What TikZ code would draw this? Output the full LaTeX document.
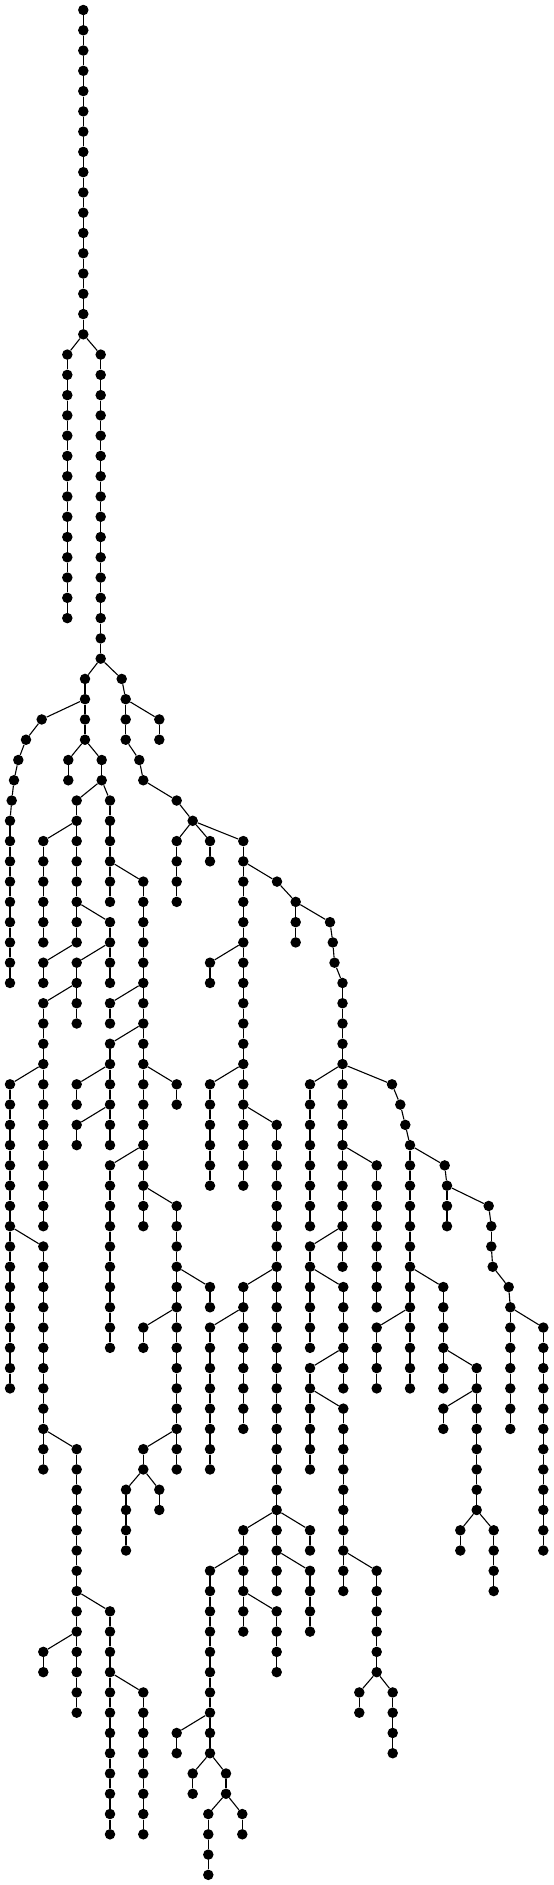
\documentclass[tikz,border=0pt]{standalone}
\tikzset{tdot/.style={circle,fill=black,draw=none,inner sep=0pt,minimum size=10.5pt},
 tline/.style={line width=1.1pt,black}}
\newcommand\nd[3]{\node[tdot] (#1) at (#2,{10+20.27*(#3)}) {};}
\newcommand\ed[2]{\draw[tline] (#1) -- (#2);}
\newcommand\vch[4]{%
 \foreach \l in {#3,...,#4}{\node[tdot] (#1-\l) at (#2,{10+20.27*\l}) {};}%
 \foreach \l in {#3,...,#4}{\ifnum\l>#3\relax\pgfmathtruncatemacro\pl{\l-1}\draw[tline] (#1-\pl) -- (#1-\l);\fi}}
\begin{document}
\begin{tikzpicture}[x=1pt,y=-1pt]
\useasboundingbox (0,0) rectangle (554,1885);
\vch{A}{83.3}{0}{16}
\vch{B}{67.3}{17}{30} \ed{A-16}{B-17}
\vch{C}{100.7}{17}{32} \ed{A-16}{C-17}
\vch{D}{85}{33}{36} \ed{C-32}{D-33}
\nd{e33}{121.7}{33} \ed{C-32}{e33}
\vch{E}{125.7}{34}{36} \ed{e33}{E-34}
\vch{F}{159.3}{35}{36} \ed{E-34}{F-35}
\nd{g37}{139.3}{37} \nd{g38}{143.3}{38} \nd{g39}{176.7}{39} \nd{V}{192.7}{40}
\ed{E-36}{g37} \ed{g37}{g38} \ed{g38}{g39} \ed{g39}{V}
\nd{h35}{41.7}{35} \nd{h36}{26}{36} \nd{h37}{18.3}{37} \nd{h38}{14}{38} \nd{h39}{11.7}{39}
\ed{D-34}{h35} \ed{h35}{h36} \ed{h36}{h37} \ed{h37}{h38} \ed{h38}{h39}
\vch{K0a}{10}{40}{48} \ed{h39}{K0a-40}
\vch{I}{68.3}{37}{38} \ed{D-36}{I-37}
\vch{J}{101.7}{37}{38} \ed{D-36}{J-37}
\vch{K2a}{76.7}{39}{46} \ed{J-38}{K2a-39}
\vch{K3a}{110}{39}{44} \ed{J-38}{K3a-39}
\vch{K1a}{43.3}{41}{46} \ed{K2a-40}{K1a-41}
\vch{K4a}{143.3}{43}{60} \ed{K3a-42}{K4a-43}
\vch{K3b}{110}{45}{48} \ed{K2a-44}{K3b-45}
\vch{K1b}{43.3}{47}{48} \ed{K2a-46}{K1b-47}
\vch{K2b}{76.7}{47}{50} \ed{K3b-46}{K2b-47}
\vch{K1c}{43.3}{49}{60} \ed{K2b-48}{K1c-49}
\vch{K3c}{110}{49}{50} \ed{K4a-48}{K3c-49}
\vch{K3d}{110}{51}{56} \ed{K4a-50}{K3d-51}
\vch{K5a}{176.7}{53}{54} \ed{K4a-52}{K5a-53}
\vch{K3e}{110}{57}{66} \ed{K4a-56}{K3e-57}
\vch{K5b}{176.7}{59}{72} \ed{K4a-58}{K5b-59}
\vch{K0b}{10}{53}{68} \ed{K1c-52}{K0b-53}
\vch{K2c}{76.7}{53}{54} \ed{K3d-52}{K2c-53}
\vch{K2d}{76.7}{55}{56} \ed{K3d-54}{K2d-55}
\vch{K1d}{43.3}{61}{72} \ed{K0b-60}{K1d-61}
\vch{K2e}{76.7}{71}{84} \ed{K1d-70}{K2e-71}
\vch{K3f}{110}{79}{90} \ed{K2e-78}{K3f-79}
\vch{K1e}{43.3}{81}{82} \ed{K2e-80}{K1e-81}
\vch{K4b}{143.3}{83}{90} \ed{K3f-82}{K4b-83}
\vch{K6c}{210}{63}{64} \ed{K5b-62}{K6c-63}
\vch{K4c}{143.3}{65}{66} \ed{K5b-64}{K4c-65}
\vch{K4d}{143.3}{71}{72} \ed{K5b-70}{K4d-71}
\vch{M}{126}{73}{76} \ed{K4d-72}{M-73}
\vch{N}{159.3}{73}{74} \ed{K4d-72}{N-73}
\vch{K5v}{176.7}{41}{44} \ed{V}{K5v-41}
\vch{K6v}{210}{41}{42} \ed{V}{K6v-41}
\vch{K7a}{243.3}{41}{58} \ed{V}{K7a-41}
\nd{p43}{277}{43} \ed{K7a-42}{p43}
\vch{W}{295.7}{44}{46} \ed{p43}{W-44}
\nd{q45}{330}{45} \nd{q46}{332.8}{46} \nd{q47}{334.5}{47}
\ed{W-44}{q45} \ed{q45}{q46} \ed{q46}{q47}
\vch{K10a}{342.5}{48}{62} \ed{q47}{K10a-48}
\vch{K6a}{210}{47}{48} \ed{K7a-46}{K6a-47}
\vch{K6b}{210}{53}{58} \ed{K7a-52}{K6b-53}
\vch{K8a}{276.7}{55}{78} \ed{K7a-54}{K8a-55}
\vch{K7b}{243.3}{63}{70} \ed{K8a-62}{K7b-63}
\vch{K6d}{210}{65}{72} \ed{K7b-64}{K6d-65}
\vch{K7c}{243.3}{75}{80} \ed{K8a-74}{K7c-75}
\vch{K6e}{210}{77}{86} \ed{K7c-76}{K6e-77}
\vch{K8b}{276.7}{79}{82} \ed{K7c-78}{K8b-79}
\vch{K5c}{176.7}{85}{86} \ed{K6e-84}{K5c-85}
\vch{R}{192.7}{87}{88} \ed{K6e-86}{R-87}
\vch{S}{226}{87}{88} \ed{K6e-86}{S-87}
\vch{T}{208.3}{89}{92} \ed{S-88}{T-89}
\vch{U}{242.3}{89}{90} \ed{S-88}{U-89}
\vch{K9c}{310}{75}{76} \ed{K8a-74}{K9c-75}
\vch{K9d}{310}{77}{80} \ed{K8a-76}{K9d-77}
\vch{K9a}{310}{53}{60} \ed{K10a-52}{K9a-53}
\nd{v53}{392}{53} \nd{v54}{400.3}{54} \nd{v55}{405.3}{55}
\ed{K10a-52}{v53} \ed{v53}{v54} \ed{v54}{v55}
\vch{K12a}{410}{56}{68} \ed{v55}{K12a-56}
\vch{K11a}{376.7}{57}{64} \ed{K10a-56}{K11a-57}
\vch{K9b}{310}{61}{66} \ed{K10a-60}{K9b-61}
\vch{K10b}{343.3}{63}{68} \ed{K9b-62}{K10b-63}
\vch{K9e}{310}{67}{72} \ed{K10b-66}{K9e-67}
\vch{K10c}{343.3}{69}{78} \ed{K9e-68}{K10c-69}
\vch{K11c}{376.7}{77}{82} \ed{K10c-76}{K11c-77}
\vch{Wa}{359.3}{83}{84} \ed{K11c-82}{Wa-83}
\vch{Xa}{392.7}{83}{86} \ed{K11c-82}{Xa-83}
\nd{y57}{444.7}{57} \ed{K12a-56}{y57}
\vch{Y}{447}{58}{60} \ed{y57}{Y-58}
\nd{z59}{488.7}{59} \nd{z60}{491.3}{60} \nd{z61}{491.3}{61} \nd{z62}{492.7}{62} \nd{z63}{508.7}{63}
\ed{Y-58}{z59} \ed{z59}{z60} \ed{z60}{z61} \ed{z61}{z62} \ed{z62}{z63}
\vch{K15a}{510.3}{64}{70} \ed{z63}{K15a-64}
\vch{K16a}{543.3}{65}{76} \ed{K15a-64}{K16a-65}
\vch{K13a}{443.3}{63}{68} \ed{K12a-62}{K13a-63}
\vch{K11b}{376.7}{65}{68} \ed{K12a-64}{K11b-65}
\vch{K14a}{476.7}{67}{74} \ed{K13a-66}{K14a-67}
\vch{K13b}{443.3}{69}{70} \ed{K14a-68}{K13b-69}
\vch{AA}{460.3}{75}{76} \ed{K14a-74}{AA-75}
\vch{BB}{493.7}{75}{78} \ed{K14a-74}{BB-75}
\end{tikzpicture}
\end{document}
